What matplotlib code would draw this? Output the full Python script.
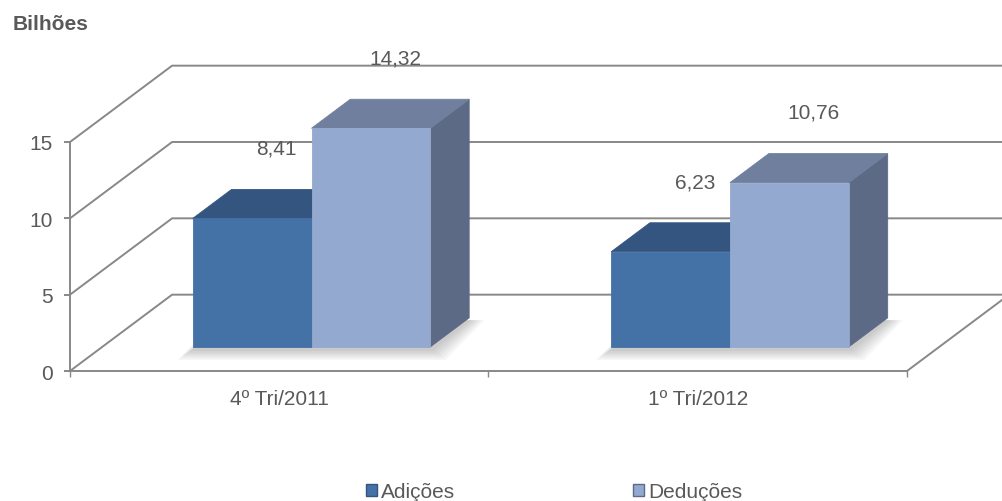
import numpy as np
import matplotlib
matplotlib.use("Agg")
import matplotlib.pyplot as plt
from matplotlib.patches import Polygon, Patch

plt.rcParams['font.family'] = ['Liberation Sans', 'DejaVu Sans']

# data
categories = ["4º Tri/2011", "1º Tri/2012"]
series = ["Adições", "Deduções"]
adicoes = [8.41, 6.23]
deducoes = [14.32, 10.76]
yticks = [0, 5, 10, 15]

# styling
front_cols = ["#4471A6", "#94A9D0"]
top_cols = ["#34557F", "#6F7F9D"]
side_cols = ["#2C4A70", "#5C6A86"]
grid_col = "#888888"
text_col = "#595959"

fig = plt.figure(figsize=(10.02, 5.02), dpi=100)
ax = fig.add_axes([70 / 1002, 130 / 502, 837 / 1002, 229 / 502])
ax.set_xlim(0, 2)
ax.set_ylim(0, 15)

# oblique depth vector in data units (one category ~ 418 px, 5 units ~ 76 px)
Dx, Dy = 0.244, 5.0
f0, fd = 0.316, 0.38          # bar front position / depth as fraction of floor depth
bar_w = 0.284
ox, oy = f0 * Dx, f0 * Dy
dx, dy = fd * Dx, fd * Dy

lw = 1.4
# walls: diagonals + back wall lines
for v in yticks:
    ax.plot([0, Dx, 2 + Dx + 0.1], [v, v + Dy, v + Dy], color=grid_col, lw=lw,
            clip_on=False, zorder=1, solid_capstyle='butt')
# right floor edge
ax.plot([2, 2 + Dx], [0, Dy], color=grid_col, lw=lw, clip_on=False, zorder=1)

# bars
vals = [adicoes, deducoes]
for i, cat in enumerate(categories):
    center = i + 0.5
    # soft floor shadow
    gx0, gx1 = center - bar_w + ox, center + bar_w + ox
    for k in range(6):
        e = 0.006 * (k + 1)
        ey = 0.12 * (k + 1)
        poly = [(gx0 - e, oy - ey - 0.15), (gx1 + e, oy - ey - 0.15),
                (gx1 + dx + e, oy + dy - 0.15), (gx0 + dx - e, oy + dy - 0.15)]
        ax.add_patch(Polygon(poly, closed=True, facecolor="#000000", alpha=0.035,
                             edgecolor="none", zorder=2, clip_on=False))
    for s in range(len(series)):
        h = vals[s][i]
        x0 = center - bar_w + s * bar_w + ox
        x1 = x0 + bar_w
        front = [(x0, oy), (x1, oy), (x1, oy + h), (x0, oy + h)]
        top = [(x0, oy + h), (x1, oy + h), (x1 + dx, oy + h + dy), (x0 + dx, oy + h + dy)]
        side = [(x1, oy), (x1 + dx, oy + dy), (x1 + dx, oy + h + dy), (x1, oy + h)]
        ax.add_patch(Polygon(side, closed=True, facecolor=side_cols[s],
                             edgecolor=side_cols[s], lw=0.6, zorder=3, clip_on=False))
        ax.add_patch(Polygon(top, closed=True, facecolor=top_cols[s],
                             edgecolor=top_cols[s], lw=0.6, zorder=3, clip_on=False))
        ax.add_patch(Polygon(front, closed=True, facecolor=front_cols[s],
                             edgecolor=front_cols[s], lw=0.6, zorder=3, clip_on=False))
        ax.text((x0 + x1) / 2 + dx - 0.035, oy + h + dy + 2.7,
                f"{h:.2f}".replace(".", ","), ha="center", va="center",
                fontsize=15, color=text_col, zorder=4)

# axes
for sp in ["top", "right"]:
    ax.spines[sp].set_visible(False)
for sp in ["left", "bottom"]:
    ax.spines[sp].set_color(grid_col)
    ax.spines[sp].set_linewidth(lw)
    ax.spines[sp].set_zorder(5)
ax.set_yticks(yticks)
ax.set_yticklabels([str(v) for v in yticks])
ax.tick_params(axis="y", length=4.5, width=lw, color=grid_col, pad=8,
               labelsize=15, labelcolor=text_col)
ax.set_xticks([0.5, 1.5])
ax.set_xticklabels(categories)
ax.set_xticks([0, 1, 2], minor=True)
ax.tick_params(axis="x", which="major", length=0, pad=13, labelsize=15, labelcolor=text_col)
ax.tick_params(axis="x", which="minor", length=4, width=1, color=grid_col)
ax.patch.set_visible(False)

fig.text(13 / 1002, 1 - 25 / 502, "Bilhões", fontsize=15, fontweight="bold",
         color=text_col, ha="left", va="center")

handles = [Patch(facecolor=front_cols[0], edgecolor=top_cols[0]),
           Patch(facecolor=front_cols[1], edgecolor=side_cols[1])]
fig.legend(handles, series, loc="center", bbox_to_anchor=(554 / 1002, 1 - 493 / 502),
           ncol=2, frameon=False, fontsize=15, labelcolor=text_col,
           handlelength=0.55, handleheight=0.55, handletextpad=0.2, columnspacing=8.5,
           borderpad=0)

fig.savefig("out.png", dpi=100)
